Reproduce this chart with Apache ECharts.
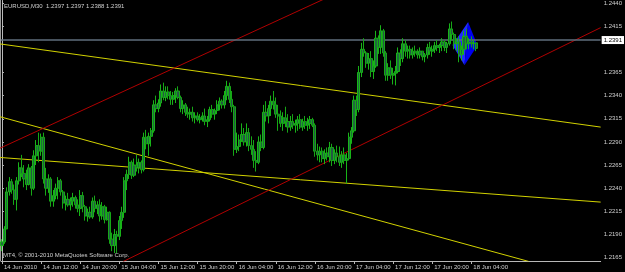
<!DOCTYPE html>
<html>
<head>
<meta charset="utf-8">
<title>EURUSD,M30</title>
<script src="https://cdn.jsdelivr.net/npm/echarts@6/dist/echarts.min.js"></script>
<style>
  html, body { margin: 0; padding: 0; background: #000; }
  #chart { width: 625px; height: 272px; }
</style>
</head>
<body>
<div id="chart"></div>
<script>
var symbolName = 'EURUSD,M30';
var copyright = 'MT4, \u00a9 2001-2010 MetaQuotes Software Corp.';

// bar prices, in pips above 1.2000 (bar 0 = 14 Jun 04:00, one bar per 30 min)
var firstOpen = 178;
var highs = [185,199,241,252,250,244,252,268,276,265,260,266,264,281,292,300,299,300,262,255,
  252,238,245,252,250,238,232,235,230,235,232,228,238,236,222,218,220,230,232,226,
  228,225,222,220,215,192,196,194,210,220,252,260,274,270,272,276,272,270,300,303,
  300,305,335,340,336,352,354,350,350,345,344,348,350,340,335,332,328,326,328,322,
  322,320,322,326,318,328,330,326,335,338,336,345,356,354,345,330,300,298,310,305,
  310,305,296,292,280,296,298,330,334,330,340,345,338,330,324,322,328,320,318,320,
  314,318,320,315,318,316,318,316,310,288,285,284,282,284,290,288,282,286,285,280,
  284,278,300,306,340,340,372,397,402,388,386,388,378,410,405,416,412,388,375,378,
  370,372,392,390,402,400,394,394,392,394,390,392,388,386,396,398,394,398,400,396,
  402,400,398,418,420,408,402,404,394,410,412,402,404,400,397];
var lows = [172,180,196,232,234,222,216,244,252,241,238,243,232,238,265,268,275,245,232,235,
  220,220,228,228,232,218,216,220,216,220,218,214,210,214,205,204,207,207,214,212,
  204,206,202,205,180,172,170,170,184,196,208,238,250,250,252,258,256,256,258,282,
  275,285,300,322,322,328,335,334,336,330,330,332,336,322,320,318,316,314,312,310,
  312,310,312,308,306,312,316,314,320,324,326,326,335,332,322,275,278,280,290,286,
  285,280,276,262,258,266,280,282,312,310,318,325,316,302,306,302,306,300,302,304,
  300,302,304,302,304,302,304,306,274,270,268,268,266,270,268,264,266,268,264,262,
  266,245,270,288,300,318,322,360,382,370,368,360,358,370,385,385,382,356,356,358,
  352,351,364,372,376,382,380,380,380,382,380,380,378,376,380,384,382,386,388,386,
  388,388,386,394,400,390,388,376,378,384,390,390,392,390,388];
var closes = [182,196,236,247,238,228,248,262,256,250,244,262,240,275,286,280,295,250,240,250,
  226,232,240,248,236,224,228,222,226,230,222,218,232,220,210,214,209,226,218,222,
  210,220,206,214,185,178,190,188,205,214,248,255,268,254,265,262,268,260,295,288,
  296,302,330,326,332,345,338,344,340,336,340,345,338,326,330,322,320,322,316,318,
  314,316,318,312,314,325,320,324,330,334,330,340,350,336,328,282,285,292,298,290,
  300,286,282,270,268,290,284,322,318,326,334,330,320,318,310,316,312,306,312,308,
  310,314,306,312,308,310,314,308,280,276,280,272,278,274,284,270,278,274,268,276,
  270,272,295,302,335,325,365,390,386,375,380,366,372,402,392,410,386,362,370,362,
  364,366,386,380,396,388,390,384,388,386,384,388,382,384,392,388,390,394,392,394,
  398,392,396,412,406,396,398,384,390,404,396,398,396,397,391];

var timeTicks = [0,16,32,48,64,80,96,112,128,144,160,176,192];
var timeLabels = ['14 Jun 2010','14 Jun 12:00','14 Jun 20:00','15 Jun 04:00','15 Jun 12:00',
  '15 Jun 20:00','16 Jun 04:00','16 Jun 12:00','16 Jun 20:00','17 Jun 04:00','17 Jun 12:00',
  '17 Jun 20:00','18 Jun 04:00'];
var priceTicks = [1.2165,1.2190,1.2215,1.2240,1.2265,1.2290,1.2315,1.2340,1.2365,1.2415,1.2440];
var bidPrice = 1.2391;

// trend lines: [bar index, price] end points (clipped by the plot area)
var yellowLines = [
  [[-0.8, 1.23958], [244.9, 1.23060]],
  [[-0.8, 1.23172], [215.5, 1.21609]],
  [[-0.8, 1.22732], [244.9, 1.22250]]
];
var redLines = [
  [[-0.8, 1.22832], [134.9, 1.24481]],
  [[49.5, 1.21607], [244.9, 1.24134]]
];
// blue rhombus object: top, right, bottom, left
var rhombus = [[190.7, 1.24195], [194.5, 1.23942], [189.2, 1.23727], [184.3, 1.23947]];

var toPrice = function (p) { return +(1.2 + p / 10000).toFixed(4); };
var candles = closes.map(function (c, i) {
  var o = i === 0 ? firstOpen : closes[i - 1];
  return [i, toPrice(o), toPrice(c), toPrice(lows[i]), toPrice(highs[i])];
});
var last = candles[candles.length - 1];
var header = symbolName + '  ' + [last[1], last[4], last[3], last[2]].map(function (v) {
  return v.toFixed(4);
}).join(' ');

var axisColor = '#b8b8b8';
var textColor = '#d0d0d0';
var font = 'Liberation Sans';

var lineSeries = function (pts, color) {
  return {
    type: 'line', data: pts, showSymbol: false, clip: true, silent: true, z: 3,
    lineStyle: { color: color, width: 1 }
  };
};

var series = [{
  type: 'custom',
  z: 1,
  data: [0],
  renderItem: function (params, api) {
    var p = rhombus.map(function (d) { return api.coord(d); });
    return {
      type: 'group',
      children: [
        { type: 'polygon', shape: { points: [p[0], p[2], p[3]] }, style: { fill: '#1f2cff' } },
        { type: 'polygon', shape: { points: [p[0], p[1], p[2]] }, style: { fill: '#0000f0' } }
      ]
    };
  }
}];
yellowLines.forEach(function (l) { series.push(lineSeries(l, '#d2d200')); });
redLines.forEach(function (l) { series.push(lineSeries(l, '#b00000')); });
series.push({
  type: 'candlestick',
  data: candles,
  encode: { x: 0, y: [1, 2, 3, 4] },
  barWidth: 2.6,
  z: 5,
  itemStyle: {
    color: '#1f6a3e',
    color0: '#245646',
    borderColor: '#18b418',
    borderColor0: '#16a816',
    borderWidth: 1
  },
  markLine: {
    silent: true,
    symbol: 'none',
    animation: false,
    lineStyle: { color: '#5f6e7c', width: 1.5, type: 'solid' },
    label: {
      position: 'end',
      distance: 1,
      formatter: bidPrice.toFixed(4),
      backgroundColor: '#ffffff',
      color: '#000000',
      fontFamily: font,
      fontSize: 6,
      padding: [1, 2, 1, 2]
    },
    data: [{ yAxis: bidPrice }]
  }
});

var chart = echarts.init(document.getElementById('chart'));
chart.setOption({
  animation: false,
  backgroundColor: '#000000',
  grid: { left: 1, right: 23, top: 0, bottom: 11 },
  xAxis: {
    type: 'value',
    min: -0.4,
    max: 244.9,
    axisLine: { show: true, lineStyle: { color: axisColor, width: 1 } },
    axisTick: { show: true, customValues: timeTicks, length: 3, lineStyle: { color: axisColor } },
    axisLabel: {
      customValues: timeTicks,
      formatter: function (v) { return timeLabels[timeTicks.indexOf(v)]; },
      align: 'left',
      margin: 3,
      padding: [0, 0, 0, 2],
      color: textColor,
      fontFamily: font,
      fontSize: 6
    },
    splitLine: { show: false }
  },
  yAxis: {
    type: 'value',
    position: 'right',
    min: 1.21614,
    max: 1.24427,
    axisLine: { show: true, lineStyle: { color: axisColor, width: 1 } },
    axisTick: { show: true, customValues: priceTicks, length: 2, lineStyle: { color: axisColor } },
    axisLabel: {
      customValues: priceTicks,
      formatter: function (v) { return v.toFixed(4); },
      margin: 3,
      color: textColor,
      fontFamily: font,
      fontSize: 6
    },
    splitLine: { show: false }
  },
  graphic: [
    { type: 'line', shape: { x1: 0.5, y1: 0, x2: 0.5, y2: 261 }, style: { stroke: '#9a9a9a', lineWidth: 1 } },
    { type: 'text', left: 4, top: 3, style: { text: header, fill: textColor, font: '6px ' + font } },
    { type: 'text', left: 3, top: 252, style: { text: copyright, fill: textColor, font: '6px ' + font } }
  ],
  series: series
});
</script>
</body>
</html>
